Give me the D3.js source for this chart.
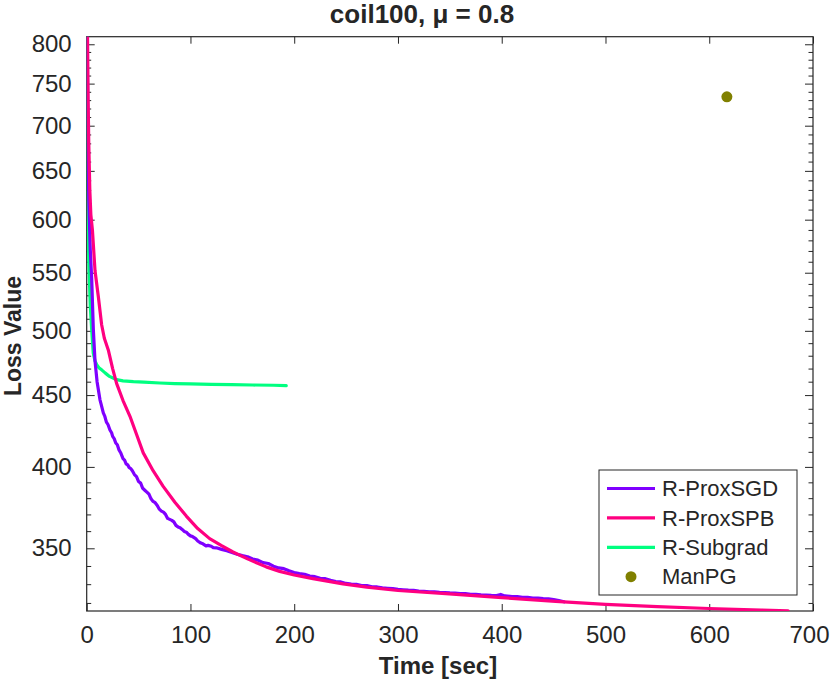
<!DOCTYPE html>
<html>
<head>
<meta charset="utf-8">
<script src="https://cdn.jsdelivr.net/npm/d3@7"></script>
<style>
  body { margin: 0; background: #fff; }
  text { font-family: "Liberation Sans", Arial, sans-serif; fill: #262626; }
</style>
</head>
<body>
<svg id="chart" width="830" height="680"></svg>
<script>
// tick values
let xTicks = [0, 100, 200, 300, 400, 500, 600, 700]
let yTicks = [350, 400, 450, 500, 550, 600, 650, 700, 750, 800]
let yMinor = [320, 330, 340, 360, 370, 380, 390, 410, 420, 430, 440, 460, 470, 480, 490,
    510, 520, 530, 540, 560, 570, 580, 590, 610, 620, 630, 640, 660, 670, 680, 690,
    710, 720, 730, 740, 760, 770, 780, 790]

// R-ProxSGD
let sgdTime = [0.5, 1, 2, 3.5, 4.8, 6.4, 8, 10, 12.8, 14, 16, 17.5, 19, 20.5, 22.4, 24, 25, 26.5,
    28, 29.5, 31, 33, 35, 36.5, 38, 39.5, 41, 42.5, 44, 46, 48, 50, 52, 54, 56, 58, 60, 62, 64,
    66, 68, 70, 72, 74, 76, 78, 80, 82, 84, 86, 88, 90, 92, 94, 96, 98, 100, 102, 105, 107, 110,
    112, 115, 117, 120, 122, 125, 130, 135,
    140, 145, 150, 155, 160, 165, 170, 175, 180, 185, 190, 195, 200, 205, 210, 215, 220, 225,
    230, 235, 240, 245, 250, 255, 260, 265, 270, 275, 280, 285, 290, 295, 300, 305, 310, 315,
    320, 325, 330, 335, 340, 345, 350, 355, 360, 365, 370, 375, 380, 385, 390, 395, 399, 403,
    410, 415, 420, 425, 430, 435, 440, 445, 450, 455, 460]
let sgdLoss = [810, 700, 620, 570, 545, 501, 476, 460, 446.5, 443, 437, 434.5, 430.5, 428.8, 425,
    423, 420.5, 419, 416, 414.8, 411.5, 409, 405.5, 404.5, 402, 401.3, 399.5, 398.9, 397.5, 395,
    393.7, 390.5, 389.5, 386.2, 385, 383.8, 382.5, 379.6, 378, 377.2, 375.5, 373.2, 372, 371.4,
    370, 367.6, 367, 366.4, 365.5, 363.4, 362.5, 362, 361, 359.8, 359.4, 358.1, 357.2, 356.8,
    355.6, 354.2, 353, 352.6, 351.4, 351.7, 351.2, 350.4, 350.3, 349.4, 348.6,
    347.6, 346.6, 345.8, 345.2,
    343.9, 343.3, 341.9, 341.4, 339.9, 338.9, 338.5, 337.3, 336.4, 335.8, 335.4, 334.4, 334.1,
    333.2, 333.0, 332.1, 331.4, 331.2, 330.4, 330.1, 329.9, 329.3, 329.2, 328.6, 328.5, 328.0,
    327.8, 327.6, 327.2, 327.0, 326.8, 326.7, 326.3, 326.2, 325.9, 325.9, 325.6, 325.5, 325.3,
    325.2, 325.0, 324.9, 324.6, 324.6, 324.3, 324.2, 324.0, 323.9, 324.5, 323.7, 323.4, 323.3,
    323.0, 322.9, 322.6, 322.5, 322.3, 322.2, 321.8, 321.2, 320.6]

// R-ProxSPB
let spbTime = [0.8, 1.4, 2, 3, 4, 5.5, 8, 11.2, 14.4, 17, 20.8, 25, 28.8, 35, 41.7, 48, 54.5, 64,
    73.7, 85, 96, 107, 118.5, 130, 141, 155, 173, 186, 200, 218, 247, 270, 300, 346, 400, 452,
    500, 550, 600, 650, 676]
let spbLoss = [810, 730, 680, 630, 605, 590, 552, 529, 505, 494, 484.6, 470, 458.7, 446, 434.6,
    422, 409.3, 397.5, 387.4, 377.5, 369, 361.5, 355.6, 351.5, 347.9, 344, 339.5, 337, 335, 333,
    330.2, 328.4, 326.6, 324.9, 322.8, 320.8, 319.3, 318.1, 317.1, 316.3, 315.9]

// R-Subgrad
let subTime = [0.3, 0.6, 1, 2, 3.5, 4.8, 6.3, 8, 10, 12, 14.4, 18, 22, 28.8, 35, 45, 55, 70.5, 85,
    100, 120, 140, 160, 180, 192.3]
let subLoss = [810, 700, 620, 560, 520, 501, 482, 476, 472.5, 470.5, 469, 466.5, 464, 461.5, 460.6,
    460, 459.6, 459, 458.6, 458.3, 458, 457.8, 457.5, 457.3, 457]

// ManPG (single point)
let manpgTime = [617]
let manpgLoss = [734]

let names = ["R-ProxSGD", "R-ProxSPB", "R-Subgrad", "ManPG"]
let colors = ["#7f00ff", "#ff0080", "#00ff80", "#808000"]

let svg = d3.select("#chart")
let plotLeft = 86.7, plotRight = 813, plotTop = 36.7, plotBottom = 611

let x = d3.scaleLinear().domain([0, 700]).range([plotLeft, plotRight])
let y = d3.scaleLog().domain([315.8, 810]).range([plotBottom, plotTop])

svg.append("defs").append("clipPath").attr("id", "plotclip")
    .append("rect")
    .attr("x", plotLeft).attr("y", plotTop)
    .attr("width", plotRight - plotLeft).attr("height", plotBottom - plotTop)

// axes: major + minor ticks on all four sides, pointing inward
let axisColor = "#262626"

let gx = svg.append("g").attr("transform", "translate(0," + plotBottom + ")")
    .call(d3.axisBottom(x).tickValues(xTicks).tickSizeInner(-7).tickSizeOuter(0).tickPadding(15))
svg.append("g").attr("transform", "translate(0," + plotTop + ")")
    .call(d3.axisTop(x).tickValues(xTicks).tickSizeInner(-7).tickSizeOuter(0).tickFormat(""))

svg.append("g").attr("transform", "translate(" + plotLeft + ",0)")
    .call(d3.axisLeft(y).tickValues(yTicks).tickSizeInner(-8).tickSizeOuter(0).tickPadding(15)
        .tickFormat(d3.format("d")))
svg.append("g").attr("transform", "translate(" + plotLeft + ",0)")
    .call(d3.axisLeft(y).tickValues(yMinor).tickSizeInner(-4.5).tickSizeOuter(0).tickFormat(""))
svg.append("g").attr("transform", "translate(" + plotRight + ",0)")
    .call(d3.axisRight(y).tickValues(yTicks).tickSizeInner(-8).tickSizeOuter(0).tickFormat(""))
svg.append("g").attr("transform", "translate(" + plotRight + ",0)")
    .call(d3.axisRight(y).tickValues(yMinor).tickSizeInner(-4.5).tickSizeOuter(0).tickFormat(""))

svg.selectAll(".domain").remove()
svg.selectAll(".tick line").attr("stroke", axisColor).attr("stroke-width", 1)
svg.selectAll(".tick text").style("font-size", "24px").attr("fill", axisColor)

// last x label sits at the figure edge, pull it in a little
gx.selectAll(".tick text").filter(d => d == 700).attr("dx", "-4")

svg.append("rect")
    .attr("x", plotLeft).attr("y", plotTop)
    .attr("width", plotRight - plotLeft).attr("height", plotBottom - plotTop)
    .attr("fill", "none").attr("stroke", axisColor).attr("stroke-width", 1.2)

// curves
let series = [
    { t: sgdTime, v: sgdLoss, c: colors[0] },
    { t: spbTime, v: spbLoss, c: colors[1] },
    { t: subTime, v: subLoss, c: colors[2] }
]

let line = d3.line()
    .x(d => x(d[0]))
    .y(d => y(d[1]))

let plot = svg.append("g").attr("clip-path", "url(#plotclip)")

// draw order: subgrad first, then sgd, then spb on top
let order = [2, 0, 1]
order.forEach(i => {
    let s = series[i]
    plot.append("path")
        .datum(d3.zip(s.t, s.v))
        .attr("d", line)
        .attr("fill", "none")
        .attr("stroke", s.c)
        .attr("stroke-width", 3.2)
        .attr("stroke-linejoin", "round")
        .attr("stroke-linecap", "round")
})

plot.selectAll(".manpg")
    .data(d3.zip(manpgTime, manpgLoss))
    .enter().append("circle")
    .attr("class", "manpg")
    .attr("cx", d => x(d[0]))
    .attr("cy", d => y(d[1]))
    .attr("r", 5.5)
    .attr("fill", colors[3])

// titles
svg.append("text")
    .attr("x", 422).attr("y", 23)
    .attr("text-anchor", "middle")
    .style("font-size", "26px").style("font-weight", "bold")
    .text("coil100, μ = 0.8")

svg.append("text")
    .attr("x", 438).attr("y", 674)
    .attr("text-anchor", "middle")
    .style("font-size", "24px").style("font-weight", "bold")
    .text("Time [sec]")

svg.append("text")
    .attr("transform", "translate(21,336) rotate(-90)")
    .attr("text-anchor", "middle")
    .style("font-size", "23px").style("font-weight", "bold")
    .text("Loss Value")

// legend
let legend = svg.append("g")
legend.append("rect")
    .attr("x", 599).attr("y", 470)
    .attr("width", 198).attr("height", 125)
    .attr("fill", "#fff").attr("stroke", axisColor).attr("stroke-width", 1)

names.forEach((name, i) => {
    let ry = 488.5 + i * 29.4
    if (i < 3) {
        legend.append("line")
            .attr("x1", 607).attr("x2", 655)
            .attr("y1", ry).attr("y2", ry)
            .attr("stroke", colors[i]).attr("stroke-width", 3.2)
    } else {
        legend.append("circle")
            .attr("cx", 631).attr("cy", ry)
            .attr("r", 5.5).attr("fill", colors[i])
    }
    legend.append("text")
        .attr("x", 662).attr("y", ry)
        .attr("dy", "0.35em")
        .style("font-size", "22px")
        .attr("fill", "#000")
        .text(name)
})
</script>
</body>
</html>
